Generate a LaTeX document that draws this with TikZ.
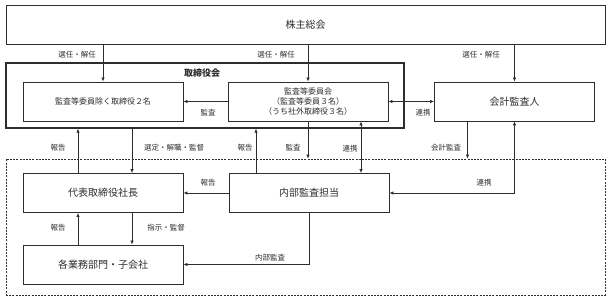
\documentclass[tikz,border=0pt]{standalone}
\usepackage{fontspec}
\setmainfont{Noto Sans CJK JP}
\usetikzlibrary{arrows.meta, calc}
\definecolor{ink}{RGB}{45,45,45}

\begin{document}
\begin{tikzpicture}[x=1pt, y=-1pt,
  box/.style={draw=ink, line width=0.9pt, minimum width=160pt, minimum height=39pt,
    inner sep=0pt, align=center, text=ink, font=\fontsize{10}{12}\selectfont},
  lbl/.style={text=ink, inner sep=0pt, font=\fontsize{7.5}{8}\selectfont},
  arr/.style={draw=ink, line width=0.7pt, -{Latex[length=4pt, width=3.5pt]}},
  biarr/.style={draw=ink, line width=0.7pt, {Latex[length=4pt, width=3.5pt]}-{Latex[length=4pt, width=3.5pt]}}]
  \useasboundingbox (0,0) rectangle (608,300);
  % frames
  \node[draw=ink, line width=1.2pt, minimum width=398pt, minimum height=65pt] (board) at (205,95.5) {};
  \node[text=ink, font=\fontsize{9}{10}\selectfont\bfseries] (boardlbl) at (202,73) {取締役会};
  \node[draw=ink, line width=0.8pt, dash pattern=on 2pt off 1.2pt,
    minimum width=599pt, minimum height=136pt] (grp) at (305.5,227) {};
  % boxes
  \node[box, minimum width=599pt] (sh) at (305.5,24.5) {株主総会};
  \node[box, font=\fontsize{8}{10}\selectfont] (dir) at (103,101.5) {監査等委員除く取締役２名};
  \node[box, font=\fontsize{8}{10}\selectfont] (acm) at (308,101.5) {監査等委員会\\（監査等委員３名）\\（うち社外取締役３名）};
  \node[box] (aud) at (514.5,101.5) {会計監査人};
  \node[box] (ceo) at (103,193) {代表取締役社長};
  \node[box] (ia) at (309,193) {内部監査担当};
  \node[box] (bu) at (103,264.5) {各業務部門・子会社};
  % connectors
  \draw[arr] (dir.north |- sh.south) -- (dir.north);
  \draw[arr] (acm.north |- sh.south) -- (acm.north);
  \draw[arr] (aud.north |- sh.south) -- (aud.north);
  \draw[arr] (acm.west) -- (dir.east);
  \draw[biarr] (acm.east) -- (aud.west);
  \draw[arr] ([xshift=-25pt]ceo.north) -- ([xshift=-25pt]ceo.north |- board.south);
  \draw[arr] ([xshift=29pt]ceo.north |- board.south) -- ([xshift=29pt]ceo.north);
  \draw[arr] ([xshift=-53pt]ia.north) -- ([xshift=-53pt]ia.north |- board.south);
  \draw[arr] (acm.south) -- (acm.south |- grp.north);
  \draw[biarr] ([xshift=52pt]ia.north) -- ([xshift=52pt]ia.north |- acm.south);
  \draw[arr] ([xshift=-47pt]aud.south) -- ([xshift=-47pt]aud.south |- grp.north);
  \draw[biarr] (ia.east) -| (aud.south);
  \draw[arr] (ia.west) -- (ceo.east);
  \draw[arr] ([xshift=-25pt]bu.north) -- ([xshift=-25pt]ceo.south);
  \draw[arr] ([xshift=29pt]ceo.south) -- ([xshift=29pt]bu.north);
  \draw[arr] (ia.south) |- (bu.east);
  % labels
  \node[lbl] (l1) at (77,55) {選任・解任};
  \node[lbl] (l2) at (276,55) {選任・解任};
  \node[lbl] (l3) at (481,55) {選任・解任};
  \node[lbl] (l4) at (208,113) {監査};
  \node[lbl] (l5) at (423,113) {連携};
  \node[lbl] (l6) at (58,148) {報告};
  \node[lbl] (l7) at (174,148) {選定・解職・監督};
  \node[lbl] (l8) at (245,148) {報告};
  \node[lbl] (l9) at (293,148) {監査};
  \node[lbl] (l10) at (350,149) {連携};
  \node[lbl] (l11) at (446,148) {会計監査};
  \node[lbl] (l12) at (208,183) {報告};
  \node[lbl] (l13) at (484,183) {連携};
  \node[lbl] (l14) at (58,228) {報告};
  \node[lbl] (l15) at (166,228) {指示・監督};
  \node[lbl] (l16) at (270,258) {内部監査};
\end{tikzpicture}
\end{document}
